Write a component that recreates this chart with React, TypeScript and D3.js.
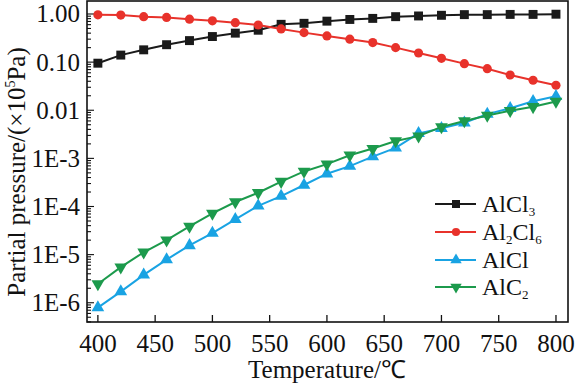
import React, { useEffect, useRef } from 'react';
import * as d3 from 'd3';

// temperature (°C)
const temps = [400, 420, 440, 460, 480, 500, 520, 540, 560, 580, 600, 620, 640, 660, 680, 700, 720, 740, 760, 780, 800];

// partial pressures (x 10^5 Pa)
const alcl3 = [0.095, 0.14, 0.18, 0.23, 0.28, 0.34, 0.4, 0.46, 0.61, 0.64, 0.71, 0.77, 0.81, 0.88, 0.91, 0.94, 0.97, 0.97, 0.98, 0.98, 0.99];
const al2cl6 = [0.96, 0.95, 0.88, 0.85, 0.78, 0.72, 0.66, 0.59, 0.49, 0.41, 0.35, 0.3, 0.255, 0.2, 0.155, 0.12, 0.093, 0.073, 0.054, 0.042, 0.033];
const alcl = [7.9e-7, 1.7e-6, 3.8e-6, 7.9e-6, 1.55e-5, 2.8e-5, 5.4e-5, 1.03e-4, 1.64e-4, 2.8e-4, 4.8e-4, 6.9e-4, 1.09e-3, 1.65e-3, 3.3e-3, 4.2e-3, 5.5e-3, 8.3e-3, 0.011, 0.0154, 0.0195];
const alc2 = [2.45e-6, 5.5e-6, 1.12e-5, 2.0e-5, 3.85e-5, 7.2e-5, 1.24e-4, 1.93e-4, 3.3e-4, 5.35e-4, 7.6e-4, 1.16e-3, 1.6e-3, 2.3e-3, 2.9e-3, 4.5e-3, 6.0e-3, 7.8e-3, 0.0098, 0.0118, 0.0152];

const xTicks = [400, 450, 500, 550, 600, 650, 700, 750, 800];
const yTicks = [1, 0.1, 0.01, 1e-3, 1e-4, 1e-5, 1e-6];
const yTickLabels = ['1.00', '0.10', '0.01', '1E-3', '1E-4', '1E-5', '1E-6'];

const series = [
  { name: 'AlCl', sub: '3', tail: '', sub2: '', values: alcl3, color: '#1a1a1a', symbol: d3.symbolSquare, size: 80, rot: 0 },
  { name: 'Al', sub: '2', tail: 'Cl', sub2: '6', values: al2cl6, color: '#e8322b', symbol: d3.symbolCircle, size: 66, rot: 0 },
  { name: 'AlCl', sub: '', tail: '', sub2: '', values: alcl, color: '#19a3e3', symbol: d3.symbolTriangle, size: 70, rot: 0 },
  { name: 'AlC', sub: '2', tail: '', sub2: '', values: alc2, color: '#1c9a4c', symbol: d3.symbolTriangle, size: 70, rot: 180 },
];

const FONT = '"Liberation Serif", "Times New Roman", serif';

export default function App() {
  const ref = useRef<SVGSVGElement>(null);

  useEffect(() => {
    document.body.style.margin = '0';
    const svg = d3.select(ref.current);
    svg.selectAll('*').remove();

    const left = 87, right = 568, top = 1, bottom = 322;
    const x = d3.scaleLinear().domain([390.5, 810.5]).range([left, right]);
    const y = d3.scaleLog().domain([Math.pow(10, -6.4), Math.pow(10, 0.27)]).range([bottom, top]);

    svg.append('rect').attr('width', 576).attr('height', 384).attr('fill', '#fff');

    // frame
    svg.append('rect')
      .attr('x', left).attr('y', top)
      .attr('width', right - left).attr('height', bottom - top)
      .attr('fill', 'none').attr('stroke', '#111').attr('stroke-width', 1.6);

    // x ticks (inward)
    const ax = svg.append('g');
    xTicks.forEach((t) => {
      ax.append('line').attr('x1', x(t)).attr('x2', x(t)).attr('y1', bottom).attr('y2', bottom - 7)
        .attr('stroke', '#111').attr('stroke-width', 1.3);
      ax.append('text').attr('x', x(t)).attr('y', 352).attr('text-anchor', 'middle')
        .attr('font-family', FONT).attr('font-size', 25).attr('fill', '#111').text(t);
    });

    // y ticks, major + minor (inward)
    const ay = svg.append('g');
    const [d0, d1] = y.domain();
    for (let e = -7; e <= 0; e++) {
      for (let m = 1; m <= 9; m++) {
        const v = m * Math.pow(10, e);
        if (v < d0 || v > d1) continue;
        ay.append('line').attr('x1', left).attr('x2', left + (m === 1 ? 7 : 4))
          .attr('y1', y(v)).attr('y2', y(v)).attr('stroke', '#111').attr('stroke-width', 1.1);
      }
    }
    yTicks.forEach((v, i) => {
      ay.append('text').attr('x', 80).attr('y', y(v) + 8.5).attr('text-anchor', 'end')
        .attr('font-family', FONT).attr('font-size', 25).attr('fill', '#111').text(yTickLabels[i]);
    });

    // axis titles
    svg.append('text').attr('x', 327).attr('y', 378).attr('text-anchor', 'middle')
      .attr('font-family', FONT).attr('font-size', 25).attr('fill', '#111').text('Temperature/℃');

    const yt = svg.append('text')
      .attr('transform', 'translate(25,172) rotate(-90)')
      .attr('text-anchor', 'middle')
      .attr('font-family', FONT).attr('font-size', 25).attr('fill', '#111');
    yt.append('tspan').text('Partial pressure/(×10');
    yt.append('tspan').attr('font-size', 14).attr('dy', -10).text('5');
    yt.append('tspan').attr('dy', 10).text('Pa)');

    // series
    const line = d3.line<number>().x((_, i) => x(temps[i])).y((d) => y(d));
    series.forEach((s) => {
      const g = svg.append('g');
      g.append('path').datum(s.values).attr('d', line)
        .attr('fill', 'none').attr('stroke', s.color).attr('stroke-width', 2);
      const sym = d3.symbol().type(s.symbol).size(s.size);
      g.selectAll('path.m').data(s.values).enter().append('path')
        .attr('class', 'm')
        .attr('d', sym)
        .attr('transform', (d, i) => `translate(${x(temps[i])},${y(d)}) rotate(${s.rot})`)
        .attr('fill', s.color);
    });

    // legend
    const legY = [204, 232, 260, 287];
    series.forEach((s, i) => {
      const g = svg.append('g').attr('transform', `translate(0,${legY[i]})`);
      g.append('line').attr('x1', 435).attr('x2', 476).attr('y1', 0).attr('y2', 0)
        .attr('stroke', s.color).attr('stroke-width', 2);
      g.append('path').attr('d', d3.symbol().type(s.symbol).size(s.size * 0.8)())
        .attr('transform', `translate(456,0) rotate(${s.rot})`).attr('fill', s.color);
      const t = g.append('text').attr('x', 482).attr('y', 8)
        .attr('font-family', FONT).attr('font-size', 24).attr('fill', '#111');
      t.append('tspan').text(s.name);
      if (s.sub) t.append('tspan').attr('font-size', 13).attr('dy', 4).text(s.sub);
      if (s.tail) {
        t.append('tspan').attr('dy', -4).text(s.tail);
        t.append('tspan').attr('font-size', 13).attr('dy', 4).text(s.sub2);
      }
    });
  }, []);

  return <svg ref={ref} width={576} height={384} style={{ display: 'block' }} />;
}
